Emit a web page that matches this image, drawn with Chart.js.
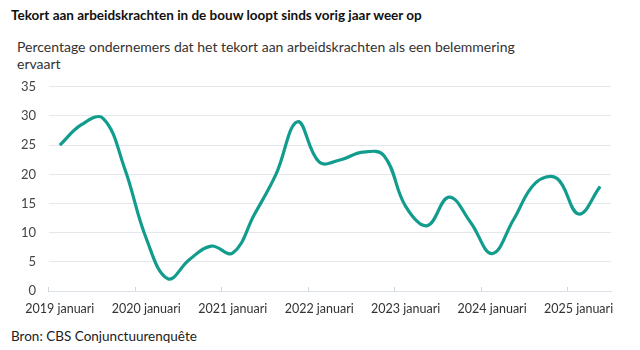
<!DOCTYPE html>
<html>
<head>
<meta charset="utf-8">
<script src="https://cdn.jsdelivr.net/npm/chart.js@4.4.1/dist/chart.umd.min.js"></script>
<style>
  body { margin: 0; width: 640px; height: 350px; background: #fff; font-family: Lato, sans-serif; color: #222; position: relative; overflow: hidden; }
  #title { position: absolute; left: 11px; top: 7px; font-size: 13.5px; font-weight: bold; color: #111; white-space: nowrap; }
  #subtitle { position: absolute; left: 17px; top: 38px; font-size: 14px; line-height: 17px; color: #333; white-space: nowrap; }
  #source { position: absolute; left: 11px; top: 328px; font-size: 13.5px; color: #222; }
  #wrap { position: absolute; left: 0; top: 66px; width: 640px; height: 255px; }
</style>
</head>
<body>
<div id="title">Tekort aan arbeidskrachten in de bouw loopt sinds vorig jaar weer op</div>
<div id="subtitle">Percentage ondernemers dat het tekort aan arbeidskrachten als een belemmering<br>ervaart</div>
<div id="source">Bron: CBS Conjunctuurenquête</div>
<div id="wrap"><canvas id="myChart"></canvas></div>
<script>
// kwartalen 2019 Q1 t/m 2025 Q2
const quarters = [
    '2019 januari', '2019 april', '2019 juli', '2019 oktober',
    '2020 januari', '2020 april', '2020 juli', '2020 oktober',
    '2021 januari', '2021 april', '2021 juli', '2021 oktober',
    '2022 januari', '2022 april', '2022 juli', '2022 oktober',
    '2023 januari', '2023 april', '2023 juli', '2023 oktober',
    '2024 januari', '2024 april', '2024 juli', '2024 oktober',
    '2025 januari', '2025 april'
];
const shortage = [
    25, 28.5, 29.6, 21, 9, 2.1, 5.4, 7.7, 6.5, 13.1, 20, 29, 22.1,
    22.5, 23.8, 23.2, 14.5, 11.2, 16.1, 11.8, 6.4, 12.3, 18.5, 19.3, 13.2, 17.9
];
const yTicks = [0, 5, 10, 15, 20, 25, 30, 35];

const gridColor = '#e4e8ed';

const ctx = document.getElementById('myChart').getContext('2d');
new Chart(ctx, {
    type: 'line',
    data: {
        labels: quarters,
        datasets: [
            {
                label: 'Tekort aan arbeidskrachten',
                data: shortage,
                borderColor: '#129c8d',
                borderWidth: 3.2,
                pointRadius: 0,
                tension: 0.4,
                fill: false
            }
        ]
    },
    options: {
        responsive: true,
        maintainAspectRatio: false,
        animation: false,
        layout: { padding: { left: 0, right: 29, top: 6, bottom: 0 } },
        plugins: {
            legend: { display: false },
            tooltip: { enabled: false }
        },
        scales: {
            x: {
                offset: true,
                grid: {
                    offset: true,
                    drawOnChartArea: false,
                    drawTicks: true,
                    tickLength: -4,
                    color: c => (c.index % 4 === 0 && c.index < quarters.length) ? '#cfd5dc' : 'rgba(0,0,0,0)'
                },
                border: { display: true, color: '#dde2e8', width: 1 },
                ticks: {
                    autoSkip: false,
                    maxRotation: 0,
                    padding: 14,
                    color: '#333',
                    font: { family: 'Lato', size: 12.5 },
                    callback: (v, i) => i % 4 === 0 ? quarters[i] : ''
                },
                afterFit: s => { s.height = 30; }
            },
            y: {
                min: 0,
                max: 35,
                afterBuildTicks: s => { s.ticks = yTicks.map(v => ({ value: v })); },
                grid: { color: gridColor, drawTicks: false },
                border: { display: false },
                ticks: {
                    padding: 13,
                    color: '#444',
                    font: { family: 'Lato', size: 13 }
                },
                afterFit: s => { s.width = 49; }
            }
        }
    }
});
</script>
</body>
</html>
